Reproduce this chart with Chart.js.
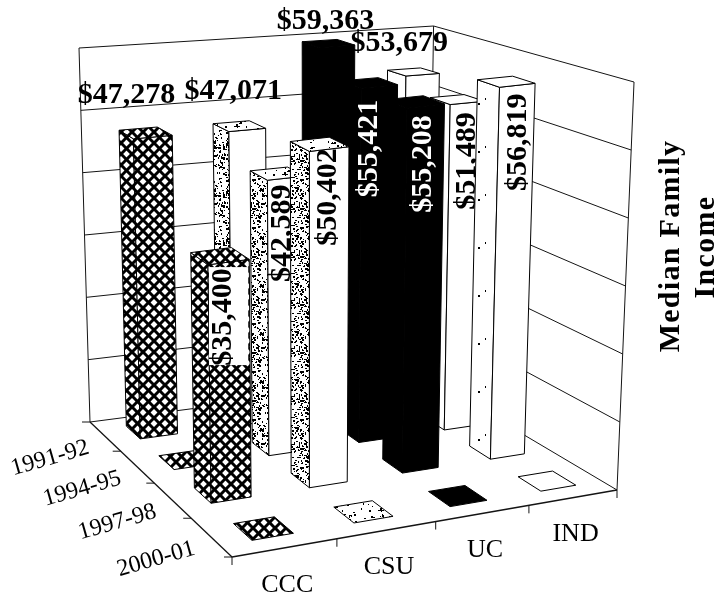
<!DOCTYPE html>
<html>
<head>
<meta charset="utf-8">
<script src="https://cdn.jsdelivr.net/npm/chart.js@4/dist/chart.umd.min.js"></script>
<style>
  html, body { margin: 0; padding: 0; background: #fff; }
  canvas { display: block; }
</style>
</head>
<body>
<canvas id="chart" width="720" height="600"></canvas>
<script>
// Values
const years = ['1991-92', '1994-95', '1997-98', '2000-01'];
const categories = ['CCC', 'CSU', 'UC', 'IND'];
const cccValues = [47278, 0, 35400, 0];
const csuValues = [47071, 42589, 50402, 0];
const ucValues = [59363, 55421, 55208, 0];
const indValues = [53679, 51489, 56819, 0];
const axisTitle = ['Median Family', 'Income'];

const SERIF = "'Liberation Serif', serif";
const INK = '#141414';

// Floor corners: back-left, back-right, front-right, front-left
const FLOOR = [[90, 422], [428, 378], [617, 490], [232, 557]];
// Full axis height in pixels at those same corners
const HEIGHTS = [374, 352, 408, 420];
// Where the bars' vertical edges converge
const VANISH = [309, 7873];

// Bar footprint inside its cell
const BAR_U = [0.30, 0.70];
const BAR_V = [0.28, 0.72];

// Labels do not sit evenly on their bars, nudges are per "col,row"
const LABEL_NUDGE = {
  '0,0': [-19, -38], '1,0': [-6, -35], '2,0': [-3, -22], '3,0': [-14, -29],
  '1,1': [-4, 5], '2,1': [-10, 12], '3,1': [0, 8],
  '0,2': [-5, 5], '1,2': [-1, -2], '2,2': [-2, 8], '3,2': [1, 7],
};

function squareToQuad(q) {
  const [[x0, y0], [x1, y1], [x2, y2], [x3, y3]] = q;
  const dx1 = x1 - x2, dx2 = x3 - x2, sx = x0 - x1 + x2 - x3;
  const dy1 = y1 - y2, dy2 = y3 - y2, sy = y0 - y1 + y2 - y3;
  const den = dx1 * dy2 - dx2 * dy1;
  const g = (sx * dy2 - dx2 * sy) / den;
  const h = (dx1 * sy - sx * dy1) / den;
  const a = x1 - x0 + g * x1, b = x3 - x0 + h * x3;
  const d = y1 - y0 + g * y1, e = y3 - y0 + h * y3;
  return (u, v) => {
    const w = g * u + h * v + 1;
    return [(a * u + b * v + x0) / w, (d * u + e * v + y0) / w];
  };
}

const floorAt = squareToQuad(FLOOR);

// col 0..4 across categories, row 0..4 from back to front, t 0..1 up the value axis
function project(col, row, t) {
  const u = col / categories.length, v = row / years.length;
  const [x, y] = floorAt(u, v);
  const full = (1 - u) * (1 - v) * HEIGHTS[0] + u * (1 - v) * HEIGHTS[1]
    + u * v * HEIGHTS[2] + (1 - u) * v * HEIGHTS[3];
  const h = full * t;
  return [x + (x - VANISH[0]) / (VANISH[1] - y) * h, y - h];
}

function crossPattern() {
  const size = 11;
  const c = document.createElement('canvas');
  c.width = c.height = size;
  const g = c.getContext('2d');
  g.fillStyle = '#fff';
  g.fillRect(0, 0, size, size);
  g.strokeStyle = '#000';
  g.lineWidth = 3;
  for (let i = -size; i <= size * 2; i += size) {
    g.beginPath(); g.moveTo(i, 0); g.lineTo(i + size, size); g.stroke();
    g.beginPath(); g.moveTo(i + size, 0); g.lineTo(i, size); g.stroke();
  }
  return g.createPattern(c, 'repeat');
}

// Fixed speckle texture, a simple LCG so it looks the same on every run
function specklePattern(count) {
  const c = document.createElement('canvas');
  c.width = c.height = 48;
  const g = c.getContext('2d');
  g.fillStyle = '#fff';
  g.fillRect(0, 0, 48, 48);
  g.fillStyle = '#000';
  let s = 1234;
  const next = () => (s = (s * 1103515245 + 12345) % 2147483648) / 2147483648;
  for (let i = 0; i < count; i++) {
    g.fillRect(Math.floor(next() * 48), Math.floor(next() * 48), 1 + Math.floor(next() * 2), 1 + Math.floor(next() * 2));
  }
  return g.createPattern(c, 'repeat');
}

const cross = crossPattern();
const speckle = specklePattern(340);
const faint = specklePattern(3);

const FACE_STYLES = {
  CCC: { left: cross, front: cross, top: cross, text: '#000', patch: true },
  CSU: { left: speckle, front: '#fff', top: specklePattern(90), text: '#000' },
  UC: { left: '#000', front: '#000', top: '#000', text: '#fff' },
  IND: { left: faint, front: '#fff', top: '#fff', text: '#000' },
};

function poly(ctx, pts, fill) {
  ctx.beginPath();
  pts.forEach((p, i) => (i ? ctx.lineTo(p[0], p[1]) : ctx.moveTo(p[0], p[1])));
  ctx.closePath();
  if (fill) { ctx.fillStyle = fill; ctx.fill(); }
  ctx.stroke();
}

function line(ctx, a, b) {
  ctx.beginPath();
  ctx.moveTo(a[0], a[1]);
  ctx.lineTo(b[0], b[1]);
  ctx.stroke();
}

function text(ctx, str, x, y, font, color, angle, spacing) {
  ctx.save();
  ctx.translate(x, y);
  ctx.rotate(angle || 0);
  ctx.font = font;
  ctx.letterSpacing = spacing || '0px';
  ctx.fillStyle = color || '#000';
  ctx.textAlign = 'center';
  ctx.textBaseline = 'middle';
  ctx.fillText(str, 0, 0);
  ctx.restore();
}

function drawBox(ctx, ticks, decimal) {
  ctx.strokeStyle = INK;
  ctx.lineWidth = 1;
  const nc = categories.length, nr = years.length;
  ticks.forEach(tick => {
    const t = decimal(tick.value);
    line(ctx, project(0, 0, t), project(nc, 0, t));
    line(ctx, project(nc, 0, t), project(nc, nr, t));
  });
  line(ctx, project(0, 0, 0), project(0, 0, 1));
  line(ctx, project(nc, 0, 0), project(nc, 0, 1));
  line(ctx, project(nc, nr, 0), project(nc, nr, 1));

  ctx.lineWidth = 1.3;
  line(ctx, project(0, 0, 0), project(0, nr, 0));
  line(ctx, project(0, nr, 0), project(nc, nr, 0));
  ctx.lineWidth = 1;
  for (let c = 0; c <= nc; c++) {
    const p = project(c, nr, 0);
    line(ctx, p, [p[0], p[1] + 8]);
  }
  for (let r = 0; r <= nr; r++) {
    const p = project(0, r, 0);
    line(ctx, p, [p[0] - 8, p[1]]);
  }
}

function drawBar(ctx, col, row, t, style) {
  const u0 = col + BAR_U[0], u1 = col + BAR_U[1];
  const v0 = row + BAR_V[0], v1 = row + BAR_V[1];
  ctx.strokeStyle = '#000';
  ctx.lineWidth = 1;
  if (t > 0) {
    poly(ctx, [project(u0, v0, 0), project(u0, v1, 0), project(u0, v1, t), project(u0, v0, t)], style.left);
    poly(ctx, [project(u0, v1, 0), project(u1, v1, 0), project(u1, v1, t), project(u0, v1, t)], style.front);
  }
  poly(ctx, [project(u0, v0, t), project(u1, v0, t), project(u1, v1, t), project(u0, v1, t)], style.top);
}

function drawBarLabel(ctx, col, row, t, value, style) {
  const str = '$' + value.toLocaleString('en-US');
  const font = 'bold 30px ' + SERIF;
  const u0 = col + BAR_U[0], u1 = col + BAR_U[1];
  const [dx, dy] = LABEL_NUDGE[col + ',' + row];
  if (row === 0) {
    // back row sits above the bar
    const p = project((u0 + u1) / 2, (BAR_V[0] + BAR_V[1]) / 2, t);
    text(ctx, str, p[0] + dx, p[1] + dy, font, '#000');
    return;
  }
  const a = project(u0, row + BAR_V[1], t);
  const b = project(u1, row + BAR_V[1], t);
  const x = (a[0] + b[0]) / 2 + dx;
  const y = (a[1] + b[1]) / 2 + 50 + dy;
  if (style.patch) {
    ctx.fillStyle = '#fff';
    ctx.fillRect(a[0] + 1, y - 50, b[0] - a[0] - 2, 98);
  }
  text(ctx, str, x, y, font, style.text, -Math.PI / 2);
}

const box3d = {
  id: 'box3d',
  afterDatasetsDraw(chart) {
    const ctx = chart.ctx;
    const yScale = chart.scales.y;
    const decimal = v => yScale.getDecimalForPixel(yScale.getPixelForValue(v));
    const nc = categories.length;

    ctx.save();
    drawBox(ctx, yScale.ticks, decimal);

    // paint from the back row forward, right column first
    years.forEach((year, row) => {
      for (let col = nc - 1; col >= 0; col--) {
        const value = chart.data.datasets[col].data[row];
        const style = FACE_STYLES[categories[col]];
        const t = decimal(value);
        drawBar(ctx, col, row, t, style);
        if (value > 0) drawBarLabel(ctx, col, row, t, value, style);
      }
    });

    const tickFont = '26px ' + SERIF;
    categories.forEach((name, c) => {
      const p = project(c + 0.5, years.length, 0);
      text(ctx, name, p[0] + 2, p[1] + 37, tickFont);
    });
    years.forEach((name, r) => {
      const p = project(0, r + 0.5, 0);
      text(ctx, name, p[0] - 55, p[1] + 22, '24px ' + SERIF, '#000', -16 * Math.PI / 180);
    });

    const titleFont = 'bold 30px ' + SERIF;
    text(ctx, axisTitle[0], 671, 246, titleFont, '#000', -Math.PI / 2, '1.3px');
    text(ctx, axisTitle[1], 706, 247, titleFont, '#000', -Math.PI / 2, '1.3px');
    ctx.restore();
  },
};

new Chart(document.getElementById('chart'), {
  type: 'bar',
  data: {
    labels: years,
    datasets: [
      { label: categories[0], data: cccValues },
      { label: categories[1], data: csuValues },
      { label: categories[2], data: ucValues },
      { label: categories[3], data: indValues },
    ],
  },
  options: {
    responsive: false,
    animation: false,
    // the plain bars stay invisible, box3d paints them from the same data
    backgroundColor: 'transparent',
    borderColor: 'transparent',
    plugins: { legend: { display: false }, tooltip: { enabled: false } },
    scales: {
      x: { display: false },
      y: { display: false, min: 0, max: 60000, ticks: { stepSize: 10000 } },
    },
  },
  plugins: [box3d],
});
</script>
</body>
</html>
